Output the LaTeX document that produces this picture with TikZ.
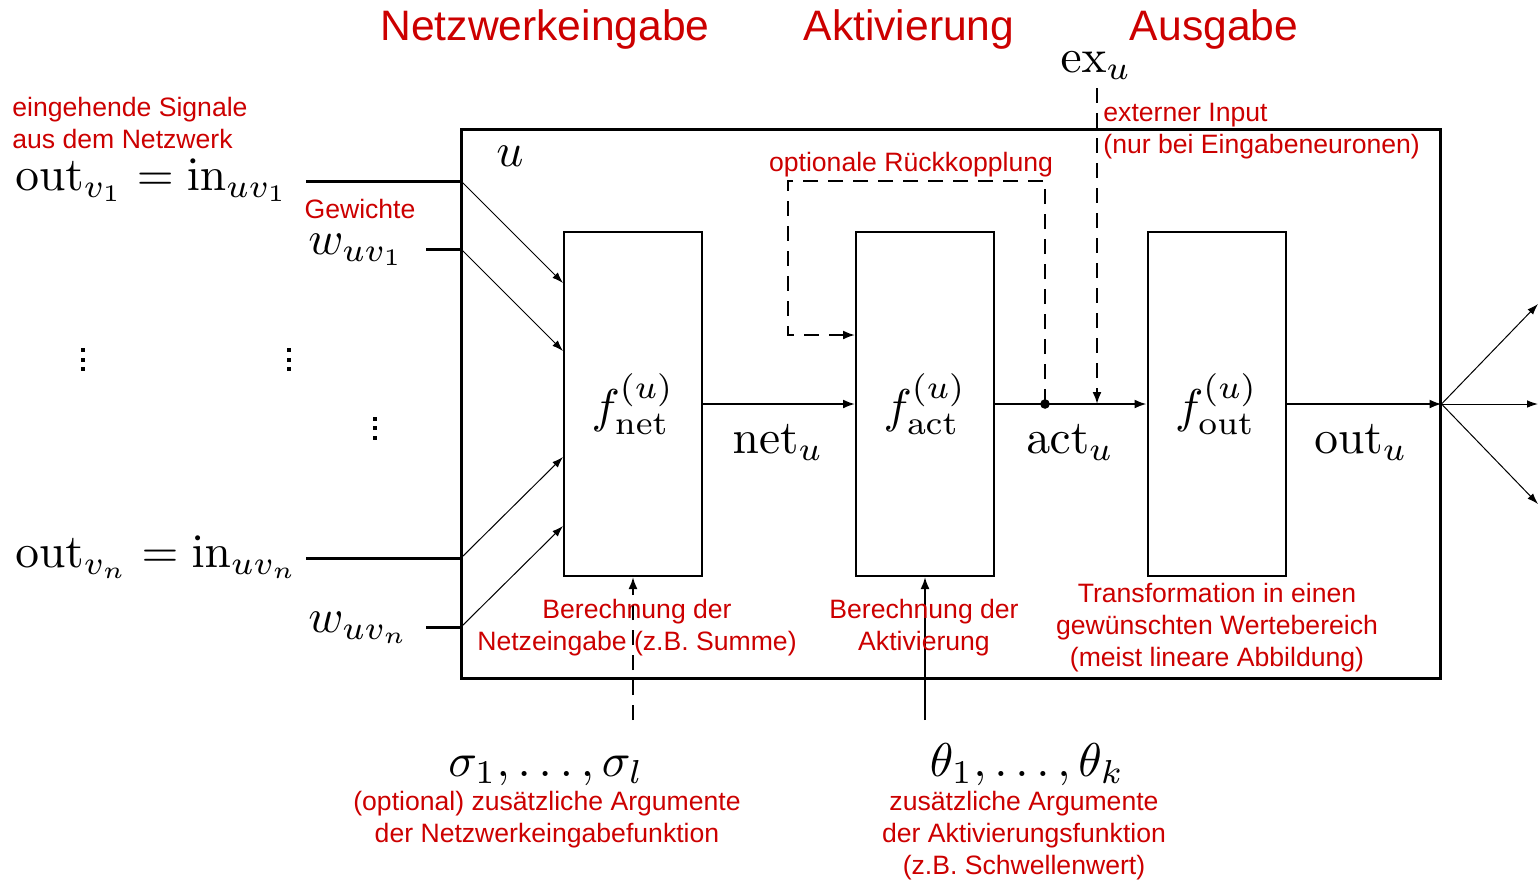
\documentclass[tikz,border=0pt]{standalone}
\usepackage[no-math]{fontspec}
\usepackage{graphicx}
\newfontfamily\notefont{Liberation Sans}
\usetikzlibrary{arrows.meta,calc}
\definecolor{notered}{RGB}{204,0,0}
% formulas set at 10pt (optical script sizes) and enlarged
\newcommand{\bigmath}[1]{\scalebox{2.37}{$#1$}}

\begin{document}
\begin{tikzpicture}[x=0.5pt,y=-0.5pt,
  mathlbl/.style={inner sep=0pt},
  fbox/.style={draw, line width=1pt, minimum width=69pt, minimum height=172pt, inner sep=0pt},
  unitbox/.style={draw, line width=1.5pt, minimum width=489.5pt, minimum height=274.5pt, inner sep=0pt},
  note/.style={text=notered, font=\notefont\fontsize{13.3}{16}\selectfont, inner sep=0pt, align=center},
  headline/.style={text=notered, font=\notefont\fontsize{21.3}{25}\selectfont, inner sep=0pt},
  inwire/.style={line width=1.5pt},
  flow/.style={line width=1pt, -{Latex[length=6pt,width=4.5pt]}},
  thinflow/.style={line width=0.5pt, -{Latex[length=5.5pt,width=3.8pt]}},
  dashflow/.style={flow, dash pattern=on 7.5pt off 5pt}]
\useasboundingbox (0,0) rectangle (1540,879);

% neuron u and its three stages
\node[unitbox] (unit) at (950.5,404) {};
\node[mathlbl, anchor=base] (ulbl) at (510,166) {\bigmath{u}};
\node[fbox] (fnet) at (633,404) {\bigmath{f^{(u)}_{\mathrm{net}}}};
\node[fbox] (fact) at (925,404) {\bigmath{f^{(u)}_{\mathrm{act}}}};
\node[fbox] (fout) at (1216.5,404) {\bigmath{f^{(u)}_{\mathrm{out}}}};

% headings
\node[headline, anchor=base] (h1) at (545,40) {Netzwerkeingabe};
\node[headline, anchor=base] (h2) at (909,40) {Aktivierung};
\node[headline, anchor=base] (h3) at (1214,40) {Ausgabe};

% incoming signals and weights
\node[note, anchor=west, align=left] (insig) at (12,123) {eingehende Signale\\aus dem Netzwerk};
\node[mathlbl, anchor=base west] (o1) at (15,190) {\bigmath{\mathrm{out}_{v_1} = \mathrm{in}_{uv_1}}};
\node[mathlbl, anchor=base west] (on) at (15,567) {\bigmath{\mathrm{out}_{v_n} = \mathrm{in}_{uv_n}}};
\node[note, anchor=base] (gew) at (360,218) {Gewichte};
\node[mathlbl, anchor=base west] (w1) at (308,254) {\bigmath{w_{uv_1}}};
\node[mathlbl, anchor=base west] (wn) at (308,632) {\bigmath{w_{uv_n}}};

% vertical ellipses
\foreach \x/\y in {83.3/350, 289.3/350, 375.3/418.5} {
  \foreach \k in {0,1,2}
    \fill ($(\x,\y)+(-2,-2)+(0,9.6*\k)$) rectangle ++(4,4);
}

\coordinate (o1s) at (306,181);  \coordinate (o1e) at (461,181);
\coordinate (w1s) at (426,249);  \coordinate (w1e) at (461,249);
\coordinate (ons) at (306,558);  \coordinate (one) at (461,558);
\coordinate (wns) at (426,627);  \coordinate (wne) at (461,627);
\draw[inwire] (o1s) -- (o1e);
\draw[inwire] (w1s) -- (w1e);
\draw[inwire] (ons) -- (one);
\draw[inwire] (wns) -- (wne);
\draw[thinflow] (o1e) -- ($(fnet.west)+(0,-121)$);
\draw[thinflow] (w1e) -- ($(fnet.west)+(0,-53)$);
\draw[thinflow] (one) -- ($(fnet.west)+(0,53)$);
\draw[thinflow] (wne) -- ($(fnet.west)+(0,122)$);

% main signal path
\coordinate (fb) at (1045,404);
\coordinate (exin) at (1097,404);
\draw[flow] (fnet) -- (fact);
\draw[flow] (fact) -- (fout);
\draw[flow] (fout) -- (unit.east);
\fill (fb) circle[radius=2.4pt];
\node[mathlbl, anchor=base] (netu) at (778,453) {\bigmath{\mathrm{net}_u}};
\node[mathlbl, anchor=base] (actu) at (1070,453) {\bigmath{\mathrm{act}_u}};
\node[mathlbl, anchor=base] (outu) at (1361,453) {\bigmath{\mathrm{out}_u}};

% outgoing connections
\coordinate (t1) at (1538,304);
\coordinate (t2) at (1538,404);
\coordinate (t3) at (1538,504);
\draw[thinflow] (unit.east) -- (t1);
\draw[thinflow] (unit.east) -- (t2);
\draw[thinflow] (unit.east) -- (t3);

% optional feedback
\coordinate (fbc) at (788,181);
\draw[dashflow] (fb) |- (fbc) |- ($(fact.west)+(0,-69)$);
\node[note, anchor=base] (rk) at (911,171) {optionale Rückkopplung};

% external input
\node[mathlbl, anchor=base] (ex) at (1096,72) {\bigmath{\mathrm{ex}_u}};
\coordinate (exs) at (1097,88);
\draw[dashflow] (exs) -- (exin);
\node[note, anchor=west, align=left] (exnote) at (1103,131) {externer Input\\(nur bei Eingabeneuronen)};

% parameters
\node[mathlbl, anchor=base] (sig) at (546,776) {\bigmath{\sigma_1,\ldots,\sigma_l}};
\coordinate (sigs) at (633,720);
\draw[dashflow] (sigs) -- (fnet.south);
\node[mathlbl, anchor=base] (th) at (1027,776) {\bigmath{\theta_1,\ldots,\theta_k}};
\coordinate (ths) at (925,720);
\draw[flow] (ths) -- (fact.south);

% explanations
\node[note] (nnet) at (637,628) {Berechnung der\\Netzeingabe (z.B. Summe)};
\node[note] (nact) at (924,628) {Berechnung der\\Aktivierung};
\node[note] (nout) at (1217,628) {Transformation in einen\\gewünschten Wertebereich\\(meist lineare Abbildung)};
\node[note] (nsig) at (547,820) {(optional) zusätzliche Argumente\\der Netzwerkeingabefunktion};
\node[note] (nth) at (1024,836) {zusätzliche Argumente\\der Aktivierungsfunktion\\(z.B. Schwellenwert)};
\end{tikzpicture}
\end{document}
